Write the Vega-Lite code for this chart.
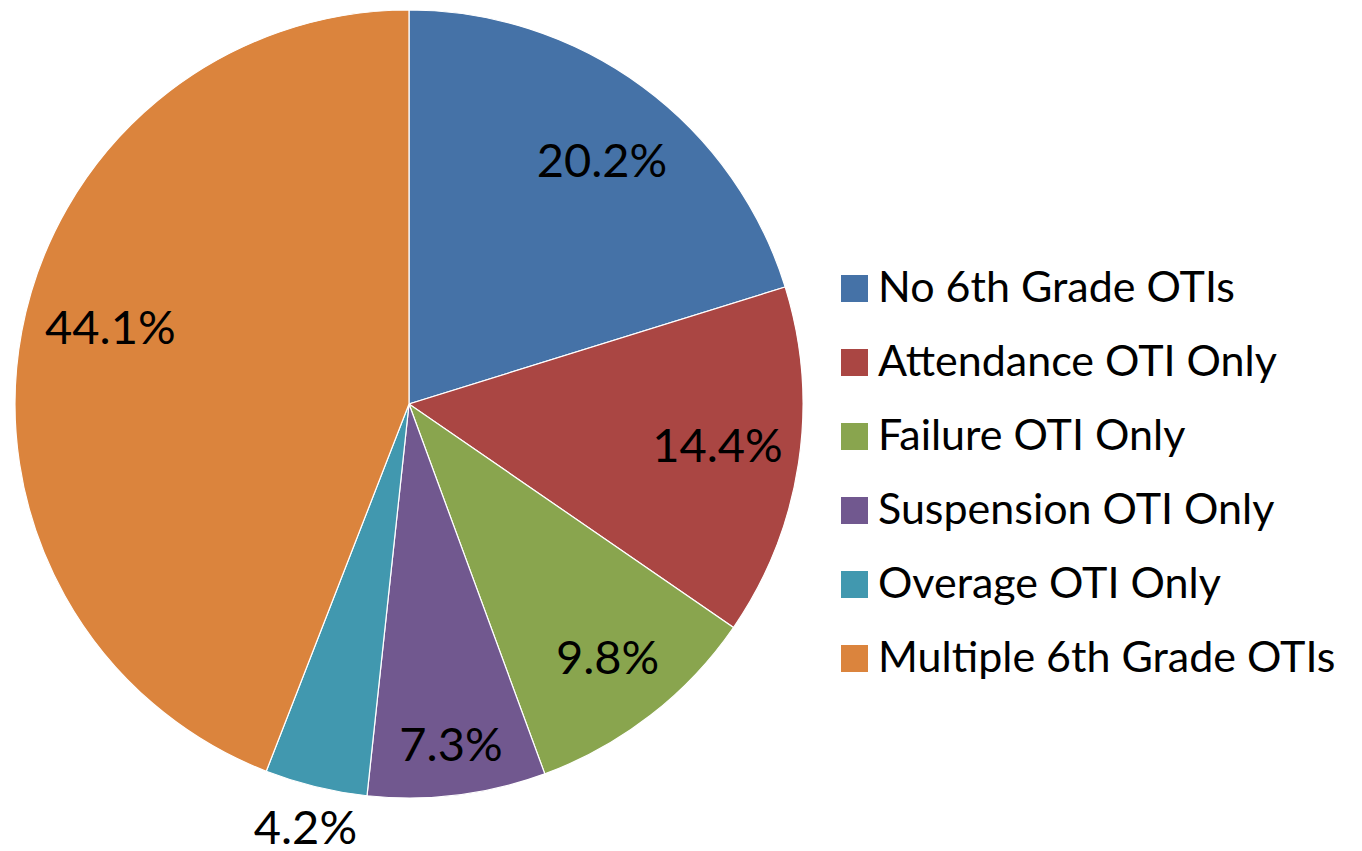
{
  "$schema": "https://vega.github.io/schema/vega-lite/v6.json",
  "width": 818,
  "height": 808,
  "padding": 0,
  "background": "white",
  "config": {"view": {"stroke": null}, "font": "Lato"},
  "data": {
    "values": [
      {"idx": 1, "category": "No 6th Grade OTIs", "value": 20.2, "label": "20.2%"},
      {"idx": 2, "category": "Attendance OTI Only", "value": 14.4, "label": "14.4%"},
      {"idx": 3, "category": "Failure OTI Only", "value": 9.8, "label": "9.8%"},
      {"idx": 4, "category": "Suspension OTI Only", "value": 7.3, "label": "7.3%"},
      {"idx": 5, "category": "Overage OTI Only", "value": 4.2, "label": "4.2%"},
      {"idx": 6, "category": "Multiple 6th Grade OTIs", "value": 44.1, "label": "44.1%"}
    ]
  },
  "transform": [
    {"stack": "value", "groupby": [], "sort": [{"field": "idx", "order": "ascending"}], "as": ["v0", "v1"]},
    {"calculate": "(datum.v0 + datum.v1) / 2", "as": "mid"}
  ],
  "layer": [
    {
      "mark": {"type": "arc", "outerRadius": 394, "stroke": "white", "strokeWidth": 1.2},
      "encoding": {
        "theta": {"field": "v0", "type": "quantitative", "scale": {"domain": [0, 100], "range": [0, 6.283185307179586]}},
        "theta2": {"field": "v1"},
        "color": {
          "field": "category",
          "type": "nominal",
          "scale": {
            "domain": ["No 6th Grade OTIs", "Attendance OTI Only", "Failure OTI Only", "Suspension OTI Only", "Overage OTI Only", "Multiple 6th Grade OTIs"],
            "range": ["#4572A7", "#AA4643", "#89A54E", "#71588F", "#4198AF", "#DB843D"]
          },
          "legend": {
            "title": null,
            "orient": "none",
            "legendX": 833,
            "legendY": 267,
            "symbolType": "square",
            "symbolSize": 729,
            "symbolStrokeWidth": 0,
            "labelFontSize": 43,
            "labelFont": "Lato",
            "labelColor": "black",
            "labelOffset": 2,
            "rowPadding": 30,
            "labelLimit": 600,
            "padding": 0
          }
        }
      }
    },
    {
      "transform": [{"filter": "datum.idx == 1"}],
      "mark": {"type": "text", "fontSize": 47, "font": "Lato", "color": "black", "dx": 8, "dy": 10},
      "encoding": {
        "theta": {"field": "mid", "type": "quantitative"},
        "radius": {"value": 312},
        "text": {"field": "label"}
      }
    },
    {
      "transform": [{"filter": "datum.idx == 2"}],
      "mark": {"type": "text", "fontSize": 47, "font": "Lato", "color": "black", "dy": -3},
      "encoding": {
        "theta": {"field": "mid", "type": "quantitative"},
        "radius": {"value": 312},
        "text": {"field": "label"}
      }
    },
    {
      "transform": [{"filter": "datum.idx == 6"}],
      "mark": {"type": "text", "fontSize": 47, "font": "Lato", "color": "black", "dx": 8, "dy": -17},
      "encoding": {
        "theta": {"field": "mid", "type": "quantitative"},
        "radius": {"value": 312},
        "text": {"field": "label"}
      }
    },
    {
      "transform": [{"filter": "datum.idx == 3"}],
      "mark": {"type": "text", "fontSize": 47, "font": "Lato", "color": "black"},
      "encoding": {
        "theta": {"field": "mid", "type": "quantitative"},
        "radius": {"value": 324},
        "text": {"field": "label"}
      }
    },
    {
      "transform": [{"filter": "datum.idx == 4"}],
      "mark": {"type": "text", "fontSize": 47, "font": "Lato", "color": "black", "dy": 3},
      "encoding": {
        "theta": {"field": "mid", "type": "quantitative"},
        "radius": {"value": 343},
        "text": {"field": "label"}
      }
    },
    {
      "transform": [{"filter": "datum.idx == 5"}],
      "mark": {"type": "text", "fontSize": 47, "font": "Lato", "color": "black"},
      "encoding": {
        "theta": {"field": "mid", "type": "quantitative"},
        "radius": {"value": 438},
        "text": {"field": "label"}
      }
    }
  ]
}
